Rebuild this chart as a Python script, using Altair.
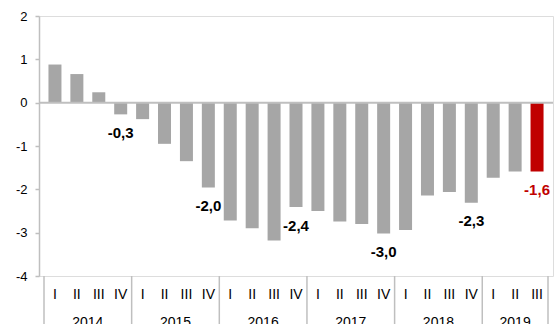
import altair as alt
import pandas as pd

# ---- data ----
years = [2014] * 4 + [2015] * 4 + [2016] * 4 + [2017] * 4 + [2018] * 4 + [2019] * 3
quarters = ["I", "II", "III", "IV"] * 5 + ["I", "II", "III"]
values = [0.88, 0.66, 0.24, -0.27,
          -0.38, -0.95, -1.35, -1.96,
          -2.72, -2.90, -3.18, -2.41,
          -2.50, -2.74, -2.80, -3.02,
          -2.94, -2.14, -2.06, -2.31,
          -1.73, -1.59, -1.59]
labels = ["", "", "", "-0,3",
          "", "", "", "-2,0",
          "", "", "", "-2,4",
          "", "", "", "-3,0",
          "", "", "", "-2,3",
          "", "", "-1,6"]
y_ticks = [-4, -3, -2, -1, 0, 1, 2]

df = pd.DataFrame({"year": years, "quarter": quarters, "value": values, "label": labels})
df["pos"] = [i + 0.5 for i in range(len(df))]

year_list = sorted(set(years))
starts = [years.index(y) for y in year_list]
ends = [starts[i + 1] if i + 1 < len(starts) else len(years) for i in range(len(starts))]
years_df = pd.DataFrame({"year": [str(y) for y in year_list],
                         "center": [(s + e) / 2 for s, e in zip(starts, ends)]})
bounds_df = pd.DataFrame({"b": starts + [len(years)]})
zero_df = pd.DataFrame({"y": [0]})

W, H = 514, 260
FONT = "Liberation Sans"
GRAY = "#a6a6a6"
RED = "#c00000"
LINE = "#bfbfbf"
N = len(years)

xscale = alt.Scale(domain=[0, N], nice=False, zero=False)
yscale = alt.Scale(domain=[-4, 2], nice=False)

is_last = f"datum.pos == {N - 0.5}"

base = alt.Chart(df)

bars = base.mark_bar(size=13).encode(
    x=alt.X("pos:Q", scale=xscale, axis=None),
    y=alt.Y("value:Q", scale=yscale,
            axis=alt.Axis(values=y_ticks, labelExpr="'' + datum.value", title=None,
                          grid=False, tickSize=4, tickColor=LINE, domainColor=LINE,
                          domainWidth=1.5, tickWidth=1.5,
                          labelFontSize=13, labelColor="#000000", labelFont=FONT,
                          labelPadding=8)),
    color=alt.condition(is_last, alt.value(RED), alt.value(GRAY)),
)

zero = alt.Chart(zero_df).mark_rule(color=LINE, strokeWidth=2).encode(
    y=alt.Y("y:Q", scale=yscale)
)

text = base.transform_filter("datum.label != ''").mark_text(
    baseline="alphabetic", dy=23.5, fontSize=15, fontWeight="bold", font=FONT
).encode(
    x=alt.X("pos:Q", scale=xscale),
    y=alt.Y("value:Q", scale=yscale),
    text="label:N",
    color=alt.condition(is_last, alt.value(RED), alt.value("#000000")),
)

quarter_text = base.mark_text(baseline="alphabetic", fontSize=14, font=FONT, color="#000000").encode(
    x=alt.X("pos:Q", scale=xscale),
    y=alt.value(H + 23),
    text="quarter:N",
)

year_text = alt.Chart(years_df).mark_text(baseline="alphabetic", fontSize=14, font=FONT,
                                          color="#000000").encode(
    x=alt.X("center:Q", scale=xscale),
    y=alt.value(H + 51),
    text="year:N",
)

seps = alt.Chart(bounds_df).mark_rule(color=LINE, strokeWidth=1.5).encode(
    x=alt.X("b:Q", scale=xscale),
    y=alt.value(H),
    y2=alt.value(H + 60),
)

chart = alt.layer(bars, zero, text, quarter_text, year_text, seps).properties(
    width=W, height=H,
    autosize=alt.AutoSizeParams(type="none"),
    padding={"left": 39, "top": 16, "right": 6, "bottom": 48},
).configure_view(stroke=None).configure(background="white")

chart.save("out.html", embed_options={"renderer": "svg", "actions": False})
